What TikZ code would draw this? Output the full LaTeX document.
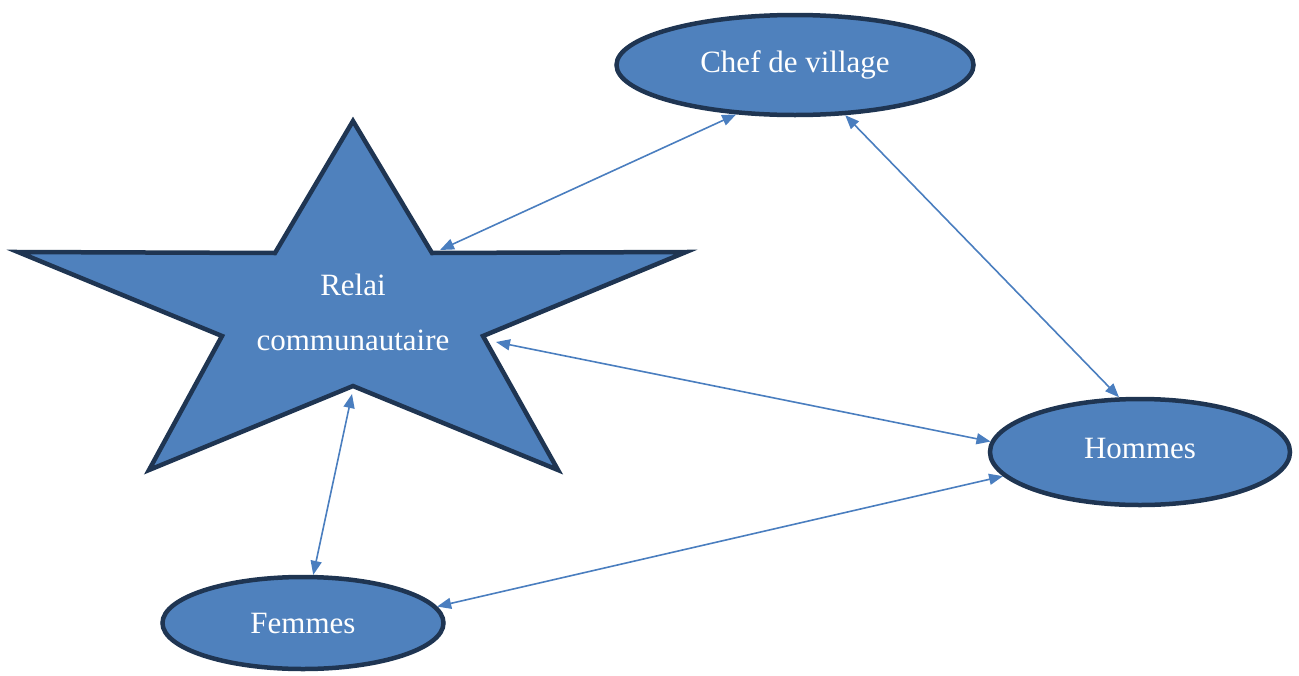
\documentclass[tikz,border=0pt]{standalone}
\usepackage{fontspec}
\setmainfont{Liberation Serif}
\usetikzlibrary{shapes.geometric,arrows.meta}
\definecolor{fillblue}{HTML}{4F81BD}
\definecolor{edgenavy}{HTML}{1F3552}
\definecolor{arrowblue}{HTML}{4A7EBF}
\begin{document}
\begin{tikzpicture}[x=1pt,y=-1pt,
  oval/.style={ellipse,draw=edgenavy,fill=fillblue,line width=4.5pt,inner sep=0pt,
    text=white,font=\fontsize{31}{36}\selectfont},
  link/.style={draw=arrowblue,line width=1.6pt,
    {Triangle[length=14pt,width=11pt]}-{Triangle[length=14pt,width=11pt]}},
  lbl/.style={text=white,font=\fontsize{31}{36}\selectfont,inner sep=0pt}]
\useasboundingbox (0,0) rectangle (1299,675);
% star
\draw[edgenavy,fill=fillblue,line width=4.5pt,line join=miter]
  (353,121) -- (432,253) -- (686,252) -- (483,336) -- (558,470) -- (353,386)
  -- (149,470) -- (222,336) -- (18,252) -- (275,253) -- cycle;
\node[lbl] (relai) at (353,285) {Relai};
\node[lbl] (comm) at (353,340) {communautaire};
\coordinate (s1) at (440,250);
\coordinate (s2) at (496,342);
\coordinate (s3) at (352,394);
% ellipses
\node[oval,minimum width=357pt,minimum height=100pt] (chef) at (795,65) {\raisebox{3pt}{Chef de village}};
\node[oval,minimum width=300pt,minimum height=106pt] (hommes) at (1140,452) {\raisebox{7pt}{Hommes}};
\node[oval,minimum width=281pt,minimum height=92pt] (femmes) at (303,623) {Femmes};
% connectors
\draw[link] (s1) -- (chef.220);
\draw[link] (chef.315) -- (hommes.111);
\draw[link] (s2) -- (hommes.176);
\draw[link] (hommes.190) -- (femmes.7);
\draw[link] (s3) -- (femmes.78);
\end{tikzpicture}
\end{document}
